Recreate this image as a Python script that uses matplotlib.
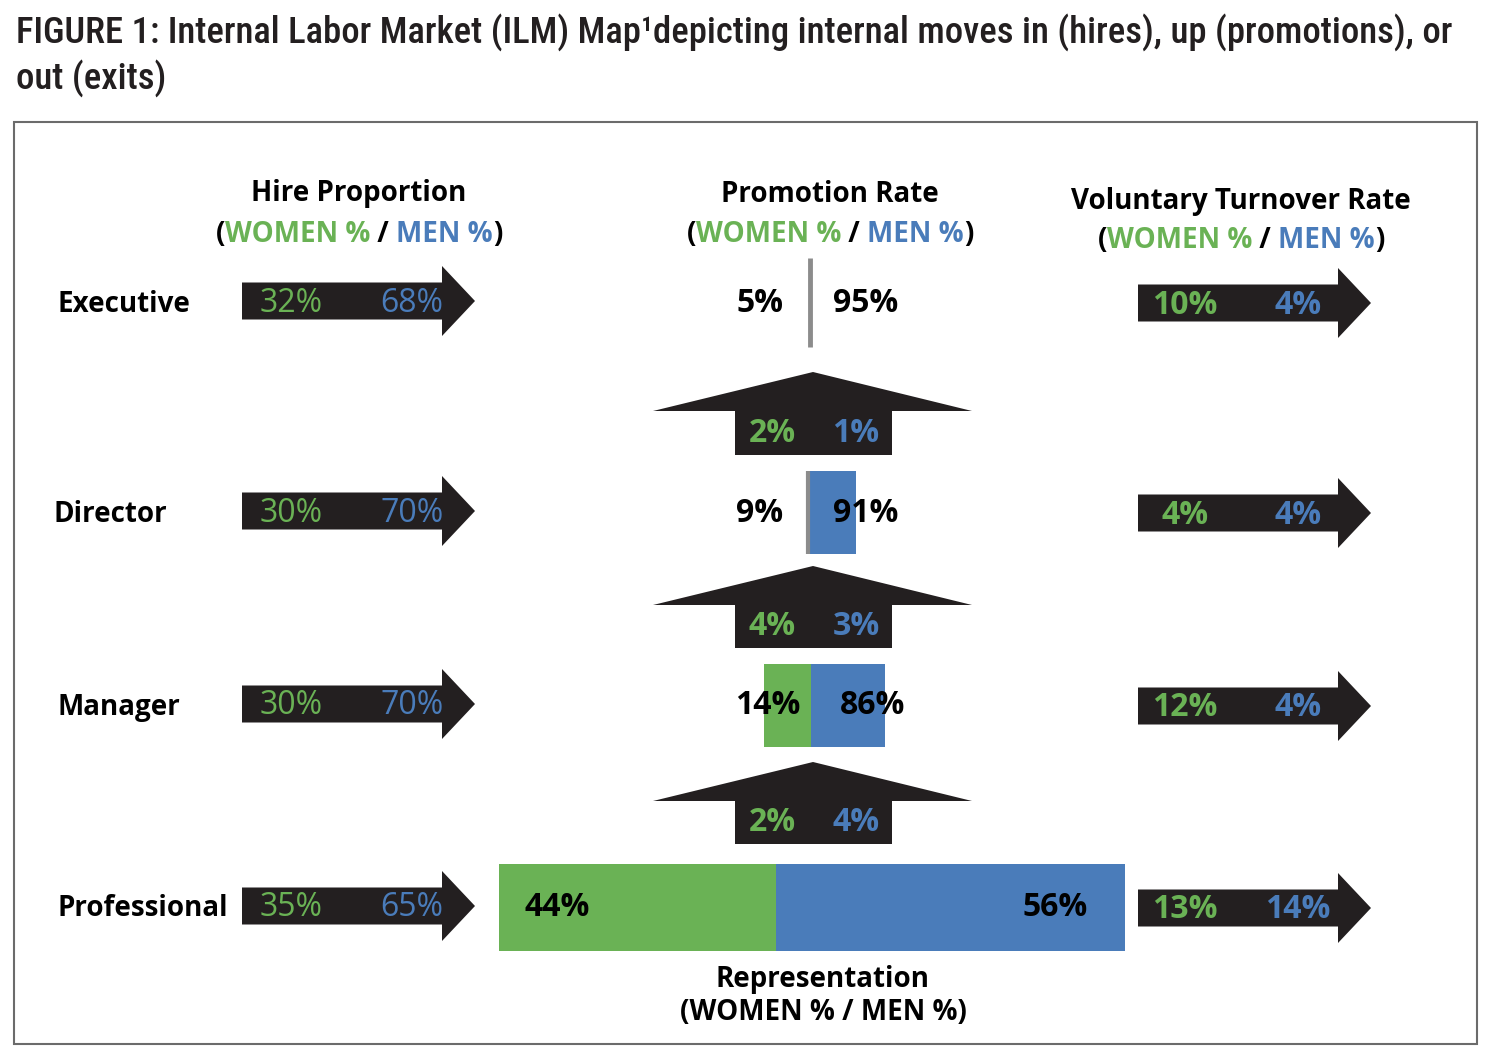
import matplotlib
matplotlib.use("Agg")
import matplotlib.pyplot as plt
from matplotlib.patches import Polygon, Rectangle

# ---- data ----
levels = ["Executive", "Director", "Manager", "Professional"]
hire_women = [32, 30, 30, 35]
hire_men = [68, 70, 70, 65]
turnover_women = [10, 4, 12, 13]
turnover_men = [4, 4, 4, 14]
rep_women = [5, 9, 14, 44]
rep_men = [95, 91, 86, 56]
# promotion rates for the moves Director->Executive, Manager->Director, Professional->Manager
promo_women = [2, 4, 2]
promo_men = [1, 3, 4]
# drawn bar lengths (relative headcount, professional total = 100)
rep_len_women = [0.0, 0.0, 7.5, 44.2]
rep_len_men = [0.0, 7.7, 11.8, 55.8]

GREEN = "#6ab255"
BLUE = "#4a7cba"
DARK = "#231f20"
GREY = "#8c8c8c"
FONT = ["Open Sans", "DejaVu Sans"]
TITLE_FONT = ["Roboto Condensed", "Roboto", "DejaVu Sans"]
HEAD = 20   # header / label size
NUM = 23    # number size

# ---- layout (pixels) ----
row_y = [301, 511, 704, 906]
rep_left = [810, 808, 764, 499]
rep_height = [0, 83, 83, 87]
bar_scale = 6.26
rep_label_x = [(760, 866), (760, 866), (768, 873), (557, 1055)]
promo_y = [(372, 411, 455), (566, 605, 648), (762, 801, 844)]


def colored_line(ax, xc, y, parts, size, weight="bold"):
    """Draw text made of differently coloured pieces, centred on xc."""
    r = ax.figure.canvas.get_renderer()
    texts = [ax.text(0, y, s, color=c, fontsize=size, fontweight=weight,
                     family=FONT, va="center", ha="left") for s, c in parts]
    widths = [t.get_window_extent(r).width for t in texts]
    x = xc - sum(widths) / 2
    for t, w in zip(texts, widths):
        t.set_x(x)
        x += w


def right_arrow(ax, x0, yc):
    body_w, head_w, body_h, head_h = 200, 33, 37, 70
    pts = [(x0, yc - body_h / 2), (x0 + body_w, yc - body_h / 2),
           (x0 + body_w, yc - head_h / 2), (x0 + body_w + head_w, yc),
           (x0 + body_w, yc + head_h / 2), (x0 + body_w, yc + body_h / 2),
           (x0, yc + body_h / 2)]
    ax.add_patch(Polygon(pts, closed=True, color=DARK, lw=0))


def up_arrow(ax, xc, apex, base, bottom):
    pts = [(xc, apex), (972, base), (892, base), (892, bottom),
           (735, bottom), (735, base), (653, base)]
    ax.add_patch(Polygon(pts, closed=True, color=DARK, lw=0))


def num(ax, x, y, value, color, weight="bold"):
    ax.text(x, y + 2, f"{value}%", fontsize=NUM, fontweight=weight, family=FONT,
            color=color, ha="center", va="center")


fig = plt.figure(figsize=(14.94, 10.62), dpi=100)
ax = fig.add_axes([0, 0, 1, 1])
ax.set_xlim(0, 1494)
ax.set_ylim(1062, 0)
ax.axis("off")

# title, shrunk to fit the width of the reference line
t1 = ax.text(16, 32, "FIGURE 1: Internal Labor Market (ILM) Map\u00b9depicting internal moves in (hires), up (promotions), or",
             fontsize=26, family=TITLE_FONT, fontweight="medium", va="center", ha="left", color=DARK)
w = t1.get_window_extent(fig.canvas.get_renderer()).width
size = 26 * 1436 / w
t1.set_fontsize(size)
ax.text(16, 78, "out (exits)", fontsize=size, family=TITLE_FONT, fontweight="medium",
        va="center", ha="left", color=DARK)

ax.add_patch(Rectangle((14, 122), 1463, 922, fill=False, edgecolor="#6b6b6b", lw=1.5))

# column headers
header_parts = [("(", "black"), ("WOMEN %", GREEN), (" / ", "black"),
                ("MEN %", BLUE), (")", "black")]
ax.text(359, 194, "Hire Proportion", fontsize=HEAD, fontweight="bold", family=FONT,
        ha="center", va="center", color="black")
colored_line(ax, 359, 234, header_parts, HEAD)
ax.text(830, 194, "Promotion Rate", fontsize=HEAD, fontweight="bold", family=FONT,
        ha="center", va="center", color="black")
colored_line(ax, 830, 234, header_parts, HEAD)
ax.text(1241, 201, "Voluntary Turnover Rate", fontsize=HEAD, fontweight="bold", family=FONT,
        ha="center", va="center", color="black")
colored_line(ax, 1241, 241, header_parts, HEAD)

# rows
for i, name in enumerate(levels):
    y = row_y[i]
    ax.text(57 if i != 1 else 54, y + 3, name, fontsize=HEAD, fontweight="bold", family=FONT,
            ha="left", va="center", color="black")

    right_arrow(ax, 242, y)
    num(ax, 291, y, hire_women[i], GREEN, weight="normal")
    num(ax, 412, y, hire_men[i], BLUE, weight="normal")

    right_arrow(ax, 1138, y + 2)
    num(ax, 1185, y + 2, turnover_women[i], GREEN)
    num(ax, 1298, y + 2, turnover_men[i], BLUE)

# representation bars
for i in range(len(levels)):
    y = row_y[i] + (0 if i == 0 else 1)
    wl = rep_len_women[i] * bar_scale
    ml = rep_len_men[i] * bar_scale
    if wl > 0:
        ax.barh(y, wl, left=rep_left[i], height=rep_height[i], color=GREEN, lw=0)
    if ml > 0:
        ax.barh(y, ml, left=rep_left[i] + wl, height=rep_height[i], color=BLUE, lw=0)
    if i == 0:
        ax.vlines(rep_left[i], 258, 347, color=GREY, lw=3.5)
    elif i == 1:
        ax.vlines(rep_left[i], y - rep_height[i] / 2, y + rep_height[i] / 2, color=GREY, lw=3)
    lx, rx = rep_label_x[i]
    num(ax, lx, row_y[i], rep_women[i], "black")
    num(ax, rx, row_y[i], rep_men[i], "black")

# promotion arrows
for j in range(len(promo_women)):
    apex, base, bottom = promo_y[j]
    up_arrow(ax, 813, apex, base, bottom)
    ly = (base + bottom) / 2 - 2
    num(ax, 772, ly, promo_women[j], GREEN)
    num(ax, 856, ly, promo_men[j], BLUE)

ax.text(823, 979, "Representation", fontsize=HEAD, fontweight="bold", family=FONT,
        ha="center", va="center", color="black")
ax.text(823, 1013, "(WOMEN % / MEN %)", fontsize=HEAD, fontweight="bold", family=FONT,
        ha="center", va="center", color="black")

fig.savefig("out.png", dpi=100)
